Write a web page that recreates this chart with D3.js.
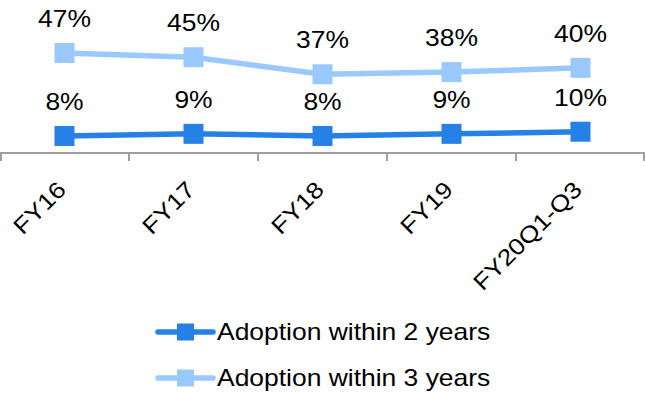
<!DOCTYPE html>
<html>
<head>
<meta charset="utf-8">
<script src="https://cdn.jsdelivr.net/npm/d3@7"></script>
<style>
  html, body { margin: 0; padding: 0; background: #fff; }
  svg { display: block; font-family: "Liberation Sans", Arial, sans-serif; }
</style>
</head>
<body>
<svg id="chart" width="645" height="396"></svg>
<script>
// Chart data
const categories = ["FY16", "FY17", "FY18", "FY19", "FY20Q1-Q3"];
const seriesNames = ["Adoption within 2 years", "Adoption within 3 years"];
const within2Years = [0.08, 0.09, 0.08, 0.09, 0.10];
const within3Years = [0.47, 0.45, 0.37, 0.38, 0.40];
const seriesColors = ["#2681E6", "#99C9FF"];

const W = 645, H = 396;
const textStretch = 1.15;      // wide glyphs along the text direction
const axisY = 153;
const fontSize = 23;

const svg = d3.select("#chart");
const g = svg.append("g");

const x = d3.scaleBand().domain(categories).range([0, W]);
const y = d3.scaleLinear().domain([0, 0.7]).range([axisY, 4]);
const fmt = d3.format(".0%");
const cx = c => x(c) + x.bandwidth() / 2;

// Category axis with ticks between categories
const axis = d3.axisBottom(x).tickSize(0).tickFormat("");
const axisG = g.append("g").attr("transform", `translate(0,${axisY})`).call(axis);
axisG.select(".domain").remove();
axisG.selectAll(".tick").remove();
axisG.append("line")
  .attr("x1", 0).attr("x2", W)
  .attr("stroke", "#a0a0a0").attr("stroke-width", 2);
const bounds = categories.map(c => x(c)).concat([W]);
axisG.selectAll("line.tick-mark")
  .data(bounds)
  .enter().append("line")
  .attr("class", "tick-mark")
  .attr("x1", d => Math.min(Math.max(d, 1), W - 1))
  .attr("x2", d => Math.min(Math.max(d, 1), W - 1))
  .attr("y1", 0).attr("y2", 8)
  .attr("stroke", "#a0a0a0").attr("stroke-width", 2);

// Rotated category labels
g.append("g").selectAll("text")
  .data(categories)
  .enter().append("text")
  .attr("transform", d => `translate(${cx(d) + 3},191) rotate(-45) scale(${textStretch},1)`)
  .attr("text-anchor", "end")
  .attr("font-size", fontSize)
  .attr("fill", "#000")
  .text(d => d);

const seriesData = [within2Years, within3Years];
const line = d3.line().x((d, i) => cx(categories[i])).y(d => y(d));
const markerSize = 20;

// Draw the 3-year series first so the 2-year series sits on top
[1, 0].forEach(si => {
  const vals = seriesData[si];
  const color = seriesColors[si];
  const sg = g.append("g");
  sg.append("path")
    .datum(vals)
    .attr("d", line)
    .attr("fill", "none")
    .attr("stroke", color)
    .attr("stroke-width", 5.5);
  sg.selectAll("rect")
    .data(vals)
    .enter().append("rect")
    .attr("x", (d, i) => cx(categories[i]) - markerSize / 2)
    .attr("y", d => y(d) - markerSize / 2)
    .attr("width", markerSize)
    .attr("height", markerSize)
    .attr("fill", color);
  sg.selectAll("text")
    .data(vals)
    .enter().append("text")
    .attr("transform", (d, i) => `translate(${cx(categories[i])},${y(d) - 26}) scale(${textStretch},1)`)
    .attr("text-anchor", "middle")
    .attr("font-size", fontSize)
    .attr("fill", "#000")
    .text(d => fmt(d));
});

// Legend
const legend = g.append("g");
const legendRows = [332, 378];
seriesNames.forEach((name, i) => {
  const ly = legendRows[i];
  legend.append("line")
    .attr("x1", 158).attr("x2", 213)
    .attr("y1", ly).attr("y2", ly)
    .attr("stroke", seriesColors[i])
    .attr("stroke-width", 5.5)
    .attr("stroke-linecap", "round");
  legend.append("rect")
    .attr("x", 185.5 - 8.5).attr("y", ly - 8.5)
    .attr("width", 17).attr("height", 17)
    .attr("fill", seriesColors[i]);
  legend.append("text")
    .attr("transform", `translate(217,${ly + 8}) scale(${textStretch},1)`)
    .attr("font-size", fontSize)
    .attr("fill", "#000")
    .text(name);
});
</script>
</body>
</html>
